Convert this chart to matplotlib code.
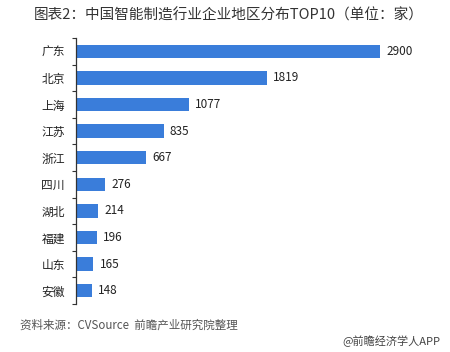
import matplotlib.pyplot as plt
import numpy as np

plt.rcParams['font.family'] = ['Noto Sans CJK SC', 'DejaVu Sans']

regions = ['广东', '北京', '上海', '江苏', '浙江', '四川', '湖北', '福建', '山东', '安徽']
counts = [2900, 1819, 1077, 835, 667, 276, 214, 196, 165, 148]

fig = plt.figure(figsize=(4.5, 3.52), dpi=100)
ax = fig.add_axes([76 / 450, 1 - 304 / 352, 344 / 450, 266 / 352])

y = np.arange(len(regions))
ax.barh(y, counts, height=0.5, color='#3A7DDA')
for yi, v in zip(y, counts):
    ax.text(v + 60, yi, str(v), va='center', ha='left', fontsize=8.5, color='#222222')

ax.set_ylim(len(regions) - 0.5, -0.5)
ax.set_xlim(0, 3282)
ax.set_yticks(y)
ax.set_yticklabels(regions, fontsize=8.5, color='#222222')
ax.tick_params(axis='y', which='major', length=0, pad=8)
ax.set_yticks(np.arange(-0.5, len(regions)), minor=True)
ax.tick_params(axis='y', which='minor', length=3, width=0.8, color='#333333')
ax.set_xticks([])
for s in ['top', 'right', 'bottom']:
    ax.spines[s].set_visible(False)
ax.spines['left'].set_color('#333333')
ax.spines['left'].set_linewidth(0.9)

fig.text(34 / 450, 1 - 15 / 352, '图表2：中国智能制造行业企业地区分布TOP10（单位：家）',
         fontsize=10.5, va='center', ha='left', color='#333333')
fig.text(20 / 450, 1 - 325 / 352, '资料来源：CVSource  前瞻产业研究院整理',
         fontsize=8.3, style='italic', va='center', ha='left', color='#555555')
fig.text(440 / 450, 1 - 341 / 352, '@前瞻经济学人APP',
         fontsize=8, va='center', ha='right', color='#444444')

fig.savefig('out.png', dpi=100)
